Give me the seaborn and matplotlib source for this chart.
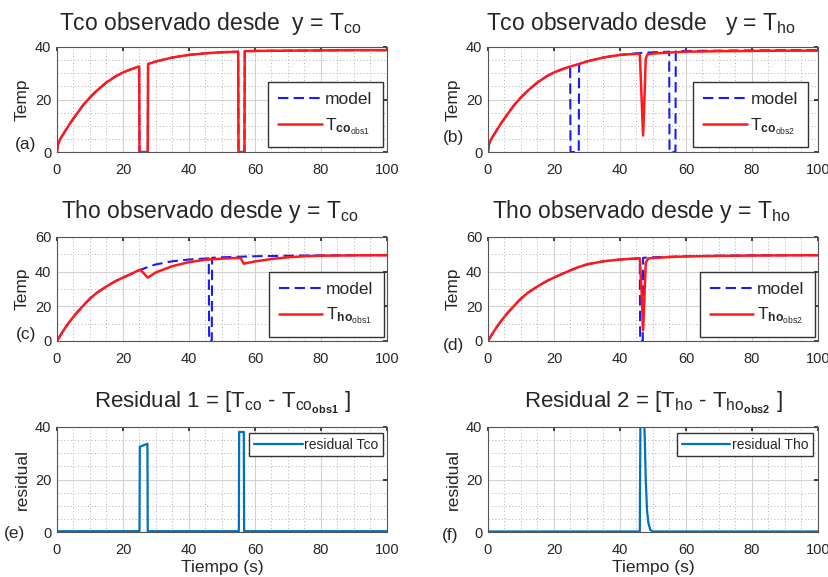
import matplotlib
matplotlib.use("Agg")
import matplotlib.pyplot as plt
import seaborn as sns
from matplotlib.ticker import MultipleLocator

# ---- data ----
# Tco measured / model (sensor drop-outs at ~25 s and ~55 s)
t_tco_model = [0, 0.3, 1, 2, 3, 4, 5, 6, 8, 10, 12, 15, 18, 20, 22, 24.9, 25.0, 27.5, 27.6,
               30, 35, 40, 45, 50, 54.9, 55.0, 56.8, 56.9, 60, 70, 80, 90, 100]
tco_model = [0, 3, 5, 7, 9, 11, 12.8, 14.5, 18, 20.8, 23.3, 26.5, 29, 30.3, 31.3, 32.6, 0, 0, 33.5,
             34.5, 36, 37, 37.6, 38, 38.2, 0, 0, 38.4, 38.5, 38.6, 38.7, 38.8, 38.8]
# observer 1 output for Tco follows the faulty measurement
t_tco_obs1 = t_tco_model
tco_obs1 = tco_model

# observer 2 output for Tco (dip around 47 s)
t_tco_obs2 = [0, 0.3, 1, 2, 3, 4, 5, 6, 8, 10, 12, 15, 18, 20, 22, 25, 27.5, 30, 35, 40, 45,
              46.0, 46.5, 47.0, 47.4, 47.8, 48.3, 50, 55, 60, 70, 80, 90, 100]
tco_obs2 = [0, 3, 5, 7, 9, 11, 12.8, 14.5, 18, 20.8, 23.3, 26.5, 29, 30.3, 31.3, 32.6, 33.5, 34.5,
            36, 37, 37.4, 37.3, 22, 6.3, 20, 35.5, 37.2, 37.5, 37.9, 38.2, 38.4, 38.5, 38.6, 38.6]

# Tho model (sensor drop-out at ~46 s)
t_tho_model = [0, 1, 2, 3, 4, 5, 6, 8, 10, 12, 15, 18, 20, 22, 25, 27.5, 30, 35, 40, 45,
               46.0, 46.1, 46.9, 47.0, 50, 55, 60, 70, 80, 90, 100]
tho_model = [0, 3.2, 6.2, 9, 11.6, 14, 16.3, 20.5, 24.5, 27.7, 31.5, 34.8, 36.6, 38.3, 40.8, 42.7,
             44.2, 46, 47, 47.6, 47.7, 0, 0, 48, 48.3, 48.6, 48.9, 49.2, 49.4, 49.5, 49.5]

# observer 1 output for Tho
t_tho_obs1 = [0, 1, 2, 3, 4, 5, 6, 8, 10, 12, 15, 18, 20, 22, 25.2, 27.5, 30, 35, 40, 45, 50,
              55.6, 56.6, 60, 65, 70, 75, 80, 90, 100]
tho_obs1 = [0, 3.2, 6.2, 9, 11.6, 14, 16.3, 20.5, 24.5, 27.7, 31.5, 34.8, 36.6, 38.3, 41.2, 36.6,
            39.6, 43.2, 45.5, 46.9, 47.5, 48, 44.6, 45.9, 47.3, 48.3, 48.9, 49.2, 49.4, 49.5]

# observer 2 output for Tho (dip around 47 s)
t_tho_obs2 = [0, 1, 2, 3, 4, 5, 6, 8, 10, 12, 15, 18, 20, 22, 25, 27.5, 30, 35, 40, 45,
              46.0, 46.5, 47.0, 47.4, 47.8, 48.5, 50, 55, 60, 70, 80, 90, 100]
tho_obs2 = [0, 3.2, 6.2, 9, 11.6, 14, 16.3, 20.5, 24.5, 27.7, 31.5, 34.8, 36.6, 38.3, 40.8, 42.7,
            44.2, 46, 47, 47.6, 47.6, 30, 6.2, 25, 45, 47.6, 47.9, 48.4, 48.8, 49.1, 49.3, 49.4, 49.5]

# residuals
t_res1 = [0, 10, 20, 25.0, 25.1, 27.4, 27.5, 30, 40, 50, 55.1, 55.2, 56.6, 56.7, 60, 70, 80, 90, 100]
res1 = [0.3, 0.3, 0.3, 0.3, 32.5, 33.6, 0.3, 0.3, 0.3, 0.3, 0.3, 38.1, 38.1, 0.3, 0.3, 0.3, 0.3, 0.3, 0.3]

t_res2 = [0, 10, 20, 30, 40, 45, 46.0, 46.2, 47.2, 47.5, 47.8, 48.2, 48.6, 49.2, 50, 60, 70, 80, 90, 100]
res2 = [0.2, 0.2, 0.2, 0.2, 0.2, 0.2, 0.2, 46, 46, 36, 20, 8, 3.5, 0.8, 0.2, 0.2, 0.2, 0.2, 0.2, 0.2]

x_ticks = [0, 20, 40, 60, 80, 100]

# ---- style ----
sns.set_theme(style="white")
plt.rcParams["font.family"] = ["Liberation Sans", "DejaVu Sans"]
plt.rcParams["mathtext.fontset"] = "custom"
plt.rcParams["mathtext.rm"] = "Liberation Sans"
plt.rcParams["mathtext.it"] = "Liberation Sans:italic"
plt.rcParams["mathtext.bf"] = "Liberation Sans:bold"

RED = "#ff1a1a"
BLUE = "#1a1aff"
RES = "#0072bd"
DASH = (0, (5, 2.5))

fig = plt.figure(figsize=(8.29, 5.77), dpi=100)

W = 330 / 829
H = 105 / 577
axa = fig.add_axes([57 / 829, 1 - 152 / 577, W, H])
axb = fig.add_axes([488 / 829, 1 - 152 / 577, W, H])
axc = fig.add_axes([57 / 829, 1 - 341 / 577, W, 104 / 577])
axd = fig.add_axes([488 / 829, 1 - 341 / 577, W, 104 / 577])
axe = fig.add_axes([57 / 829, 1 - 532 / 577, W, H])
axf = fig.add_axes([488 / 829, 1 - 532 / 577, W, H])


def style_axes(ax, ymax, yminor, letter, lx, ly):
    ax.set_xlim(0, 100)
    ax.set_ylim(0, ymax)
    ax.set_xticks(x_ticks)
    ax.set_yticks(list(range(0, ymax + 1, 20)))
    ax.xaxis.set_minor_locator(MultipleLocator(5))
    ax.yaxis.set_minor_locator(MultipleLocator(yminor))
    ax.grid(which="major", color="#d2d2d2", lw=0.8, ls="-")
    ax.grid(which="minor", color="#b0b0b0", lw=0.7, ls=(0, (1, 2.5)))
    ax.set_axisbelow(True)
    ax.tick_params(which="major", direction="in", length=3, top=True, right=True,
                   labelsize=10.5, pad=4, colors="#262626")
    ax.tick_params(axis="x", which="major", pad=8)
    ax.tick_params(which="minor", length=0)
    for s in ax.spines.values():
        s.set_color("#555555")
        s.set_linewidth(0.8)
    ax.text(lx, ly, letter, transform=ax.transAxes, ha="center", va="center", fontsize=12.5)


def big_legend(ax, x0, y0):
    ax.legend(loc="lower right", bbox_to_anchor=(x0, y0), frameon=True, fancybox=False,
              edgecolor="#333333", framealpha=1, fontsize=12.5, handlelength=2.5,
              labelspacing=0.5, borderpad=0.6, handletextpad=0.2, borderaxespad=0)


# (a)
sns.lineplot(x=t_tco_model, y=tco_model, ax=axa, color=BLUE, lw=1.5, linestyle=DASH,
             sort=False, estimator=None, label="model")
sns.lineplot(x=t_tco_obs1, y=tco_obs1, ax=axa, color=RED, lw=1.8, sort=False, estimator=None,
             label=r"T$_{\mathbf{co}_{\mathrm{obs1}}}$")
style_axes(axa, 40, 5, "(a)", -0.094, 0.076)
axa.set_title(r"Tco observado desde  y = T$_{\mathrm{co}}$", fontsize=16.5, pad=12, x=0.464)
axa.set_ylabel("Temp", fontsize=12.5)
big_legend(axa, 0.988, 0.048)

# (b)
sns.lineplot(x=t_tco_model, y=tco_model, ax=axb, color=BLUE, lw=1.5, linestyle=DASH,
             sort=False, estimator=None, label="model")
sns.lineplot(x=t_tco_obs2, y=tco_obs2, ax=axb, color=RED, lw=1.8, sort=False, estimator=None,
             label=r"T$_{\mathbf{co}_{\mathrm{obs2}}}$")
style_axes(axb, 40, 5, "(b)", -0.106, 0.14)
axb.set_title(r"Tco observado desde   y = T$_{\mathrm{ho}}$", fontsize=16.5, pad=12, x=0.464)
axb.set_ylabel("Temp", fontsize=12.5)
big_legend(axb, 0.97, 0.048)

# (c)
sns.lineplot(x=t_tho_model, y=tho_model, ax=axc, color=BLUE, lw=1.5, linestyle=DASH,
             sort=False, estimator=None, label="model")
sns.lineplot(x=t_tho_obs1, y=tho_obs1, ax=axc, color=RED, lw=1.8, sort=False, estimator=None,
             label=r"T$_{\mathbf{ho}_{\mathrm{obs1}}}$")
style_axes(axc, 60, 10, "(c)", -0.094, 0.06)
axc.set_title(r"Tho observado desde y = T$_{\mathrm{co}}$", fontsize=16.5, pad=14, x=0.464)
axc.set_ylabel("Temp", fontsize=12.5)
big_legend(axc, 0.99, 0.04)

# (d)
sns.lineplot(x=t_tho_model, y=tho_model, ax=axd, color=BLUE, lw=1.5, linestyle=DASH,
             sort=False, estimator=None, label="model")
sns.lineplot(x=t_tho_obs2, y=tho_obs2, ax=axd, color=RED, lw=1.8, sort=False, estimator=None,
             label=r"T$_{\mathbf{ho}_{\mathrm{obs2}}}$")
style_axes(axd, 60, 10, "(d)", -0.106, -0.04)
axd.set_title(r"Tho observado desde y = T$_{\mathrm{ho}}$", fontsize=16.5, pad=14, x=0.464)
axd.set_ylabel("Temp", fontsize=12.5)
big_legend(axd, 0.99, 0.04)

# (e)
sns.lineplot(x=t_res1, y=res1, ax=axe, color=RES, lw=1.6, sort=False, estimator=None,
             label="residual Tco")
style_axes(axe, 40, 5, "(e)", -0.128, -0.01)
axe.set_title(r"Residual 1 = [T$_{\mathrm{co}}$ - T$_{\mathrm{co}_{\mathbf{obs1}}}$ ]",
              fontsize=16, pad=14)
axe.set_ylabel("residual", fontsize=12.5)
axe.set_xlabel("Tiempo (s)", fontsize=12.5, labelpad=2)

# (f)
sns.lineplot(x=t_res2, y=res2, ax=axf, color=RES, lw=1.6, sort=False, estimator=None,
             label="residual Tho")
style_axes(axf, 40, 5, "(f)", -0.115, -0.03)
axf.set_title(r"Residual 2 = [T$_{\mathrm{ho}}$ - T$_{\mathrm{ho}_{\mathbf{obs2}}}$ ]",
              fontsize=16, pad=14)
axf.set_ylabel("residual", fontsize=12.5)
axf.set_xlabel("Tiempo (s)", fontsize=12.5, labelpad=2)

for ax, xr in ((axe, 0.988), (axf, 0.985)):
    ax.legend(loc="upper right", bbox_to_anchor=(xr, 0.945), frameon=True, fancybox=False,
              edgecolor="#333333", framealpha=1, fontsize=10, handlelength=3.5,
              borderpad=0.35, handletextpad=0.1, borderaxespad=0)

fig.savefig("out.png", dpi=100)
